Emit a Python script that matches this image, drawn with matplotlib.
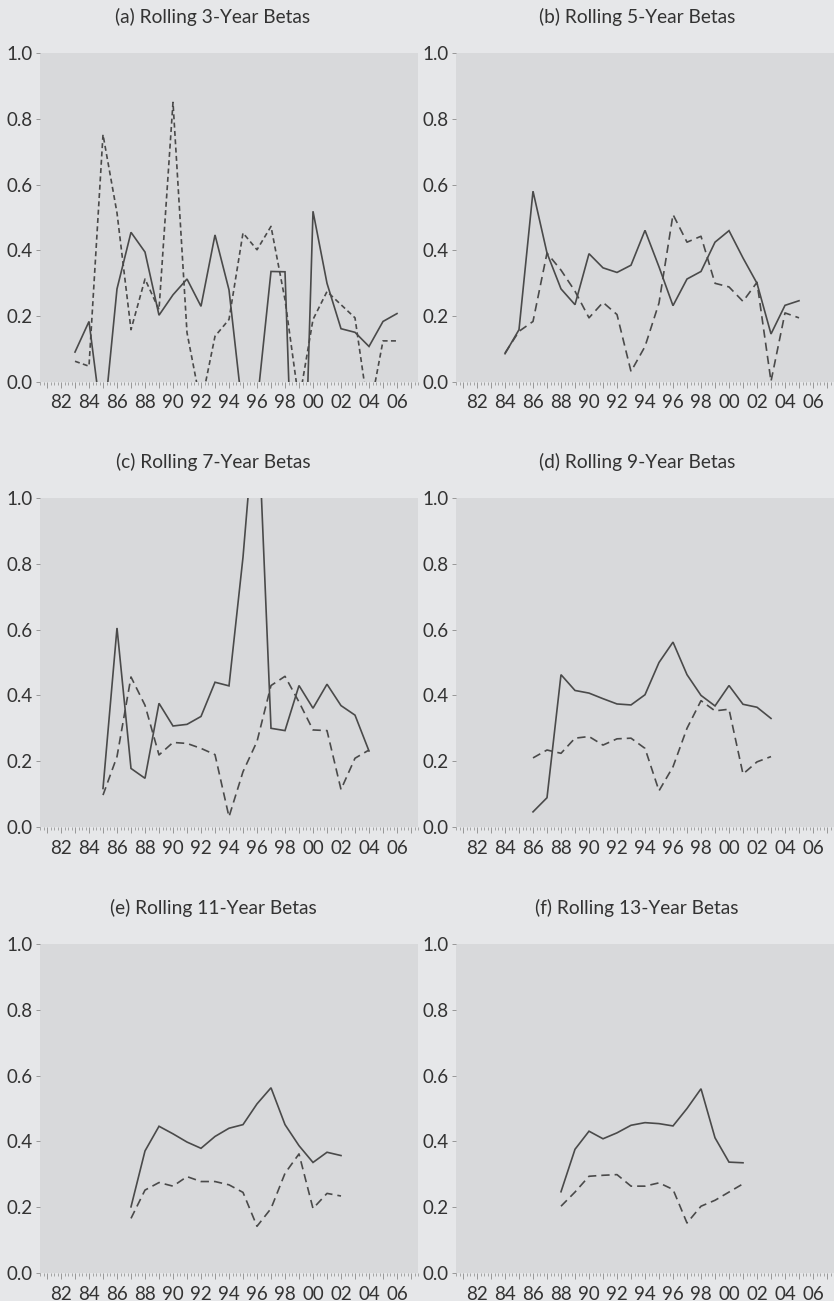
import numpy as np
import matplotlib.pyplot as plt
from matplotlib.ticker import MultipleLocator, FuncFormatter

plt.rcParams['font.family'] = ['Lato', 'DejaVu Sans']

# rolling betas, solid and dashed series for each window
years_a = list(range(1983, 2007))
solid_a = [0.091, 0.184, -0.15, 0.283, 0.455, 0.395, 0.203, 0.265, 0.313, 0.23, 0.447, 0.28,
           -0.10, -0.07, 0.336, 0.335, -0.9, 0.519, 0.30, 0.162, 0.151, 0.108, 0.184, 0.208]
dashed_a = [0.063, 0.048, 0.752, 0.514, 0.159, 0.313, 0.22, 0.85, 0.15, -0.07, 0.139, 0.19,
            0.453, 0.402, 0.473, 0.25, -0.06, 0.19, 0.275, 0.235, 0.195, -0.1, 0.125, 0.125]

years_b = list(range(1984, 2006))
solid_b = [0.086, 0.159, 0.58, 0.392, 0.283, 0.235, 0.39, 0.347, 0.333, 0.355, 0.461, 0.35,
           0.232, 0.313, 0.336, 0.425, 0.46, 0.377, 0.30, 0.146, 0.233, 0.247]
dashed_b = [0.088, 0.154, 0.184, 0.392, 0.34, 0.276, 0.195, 0.242, 0.205, 0.032, 0.108, 0.24,
            0.509, 0.425, 0.443, 0.30, 0.289, 0.245, 0.303, 0.002, 0.21, 0.195]

years_c = list(range(1985, 2005))
solid_c = [0.117, 0.605, 0.178, 0.148, 0.376, 0.307, 0.312, 0.336, 0.44, 0.429, 0.82, 1.33,
           0.30, 0.293, 0.43, 0.361, 0.434, 0.369, 0.34, 0.231]
dashed_c = [0.097, 0.214, 0.456, 0.37, 0.219, 0.257, 0.254, 0.239, 0.22, 0.031, 0.168, 0.26,
            0.43, 0.458, 0.38, 0.295, 0.293, 0.114, 0.209, 0.234]

years_d = list(range(1986, 2004))
solid_d = [0.046, 0.089, 0.463, 0.415, 0.407, 0.39, 0.374, 0.371, 0.402, 0.50, 0.562, 0.463,
           0.40, 0.368, 0.43, 0.373, 0.364, 0.33]
dashed_d = [0.21, 0.234, 0.224, 0.27, 0.275, 0.249, 0.268, 0.27, 0.239, 0.11, 0.183, 0.30,
            0.384, 0.353, 0.358, 0.161, 0.198, 0.214]

years_e = list(range(1987, 2003))
solid_e = [0.201, 0.371, 0.446, 0.423, 0.398, 0.379, 0.415, 0.44, 0.451, 0.514, 0.563, 0.451,
           0.387, 0.336, 0.367, 0.357]
dashed_e = [0.166, 0.252, 0.275, 0.264, 0.293, 0.278, 0.278, 0.268, 0.245, 0.142, 0.196, 0.303,
            0.362, 0.196, 0.242, 0.234]

years_f = list(range(1988, 2002))
solid_f = [0.247, 0.376, 0.431, 0.408, 0.426, 0.449, 0.457, 0.454, 0.447, 0.5, 0.56, 0.411,
           0.337, 0.335]
dashed_f = [0.203, 0.246, 0.294, 0.297, 0.299, 0.264, 0.264, 0.274, 0.254, 0.152, 0.203, 0.221,
            0.246, 0.271]

titles = ['(a) Rolling 3-Year Betas', '(b) Rolling 5-Year Betas', '(c) Rolling 7-Year Betas',
          '(d) Rolling 9-Year Betas', '(e) Rolling 11-Year Betas', '(f) Rolling 13-Year Betas']

panels = [(years_a, solid_a, dashed_a), (years_b, solid_b, dashed_b),
          (years_c, solid_c, dashed_c), (years_d, solid_d, dashed_d),
          (years_e, solid_e, dashed_e), (years_f, solid_f, dashed_f)]

W, H = 834, 1301
bg = '#e6e7e9'
plot_bg = '#d8d9db'
ink = '#4a4a4a'

fig = plt.figure(figsize=(W / 100, H / 100), dpi=100, facecolor=bg)

col_x = [40, 456]
row_y = [53, 498, 944]
title_y = [17, 462, 908]
title_x = [213, 637]
ax_w, ax_h = 378, 329


def year_label(v, pos):
    y = int(round(v))
    if y % 2 == 0:
        return '%02d' % (y % 100)
    return ''


for i, (yrs, s, d) in enumerate(panels):
    r, c = divmod(i, 2)
    ax = fig.add_axes([col_x[c] / W, 1 - (row_y[r] + ax_h) / H, ax_w / W, ax_h / H])
    ax.set_facecolor(plot_bg)
    ax.plot(yrs, s, color=ink, lw=1.2, solid_joinstyle='miter')
    dash = (3, 2) if i == 0 else (5, 3)
    ax.plot(yrs, d, color=ink, lw=1.2, dashes=dash)
    ax.set_xlim(1980.5, 2007.5)
    ax.set_ylim(0, 1.0)
    for sp in ax.spines.values():
        sp.set_visible(False)
    ax.xaxis.set_major_locator(MultipleLocator(1))
    ax.xaxis.set_minor_locator(MultipleLocator(0.25))
    ax.xaxis.set_major_formatter(FuncFormatter(year_label))
    ax.yaxis.set_major_locator(MultipleLocator(0.2))
    ax.yaxis.set_major_formatter(FuncFormatter(lambda v, p: '%.1f' % v))
    ax.tick_params(axis='x', which='major', length=4, width=0.6, color='#8a8a8a',
                   labelsize=13.5, labelcolor='#333333', pad=5)
    ax.tick_params(axis='x', which='minor', length=2.5, width=0.5, color='#8a8a8a')
    ax.tick_params(axis='y', length=3, width=0.6, color='#8a8a8a',
                   labelsize=13.5, labelcolor='#333333', pad=2)
    fig.text(title_x[c] / W, 1 - title_y[r] / H, titles[i], ha='center', va='center',
             fontsize=13.8, color='#333333')

plt.savefig('out.png', dpi=100, facecolor=bg)
